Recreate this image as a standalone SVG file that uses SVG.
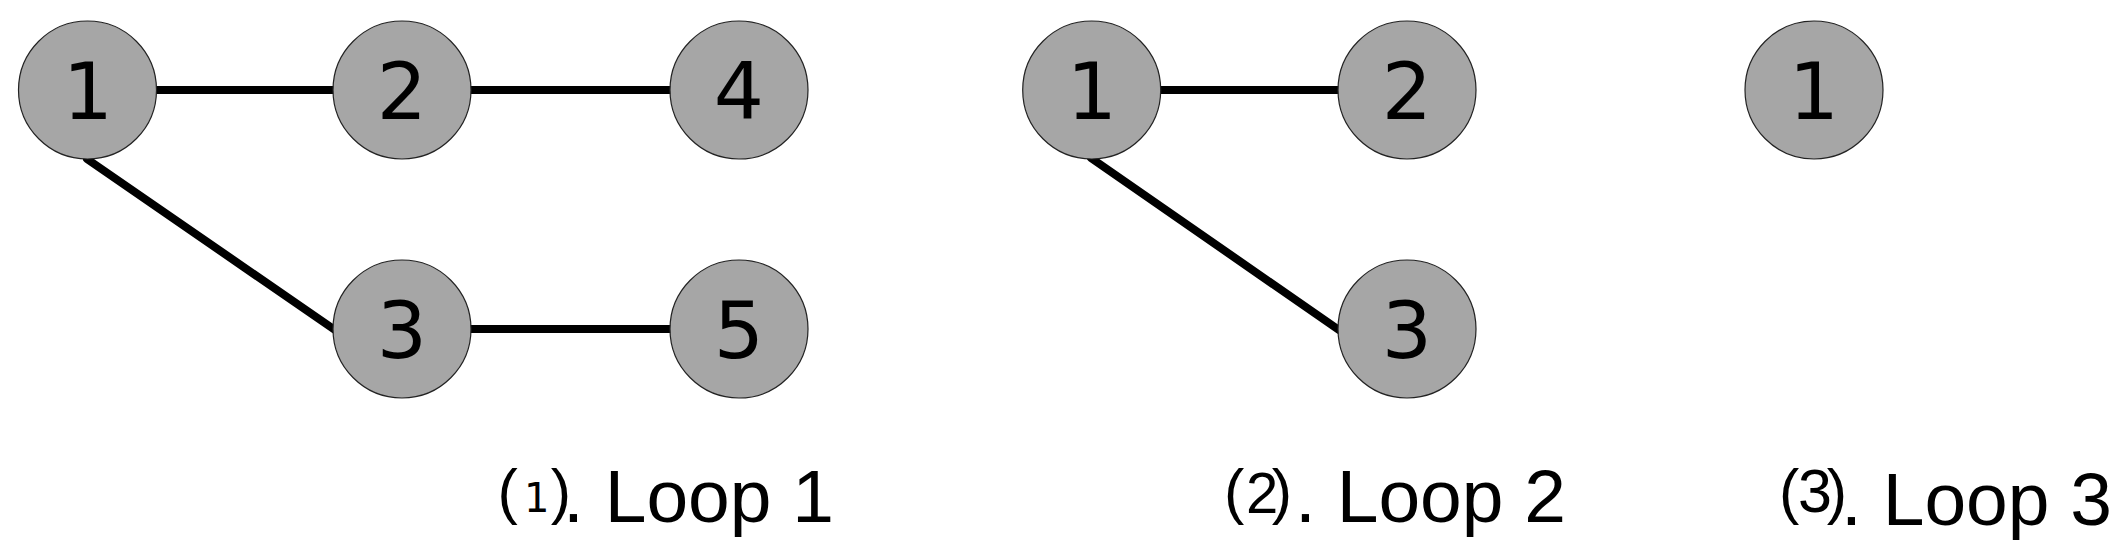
<svg xmlns="http://www.w3.org/2000/svg" width="2127" height="558" viewBox="0 0 2127 558">
<style>
.node circle{fill:#a6a6a6;stroke:#222;stroke-width:1.2}
.node text{font-family:"DejaVu Sans",sans-serif;font-size:79px;fill:#000;text-anchor:middle}
.edges line{stroke:#000;stroke-width:8;stroke-linecap:round}
.lbl{font-family:"Liberation Sans",Arial,sans-serif;fill:#000}
.par{font-size:61px}
.big{font-size:75px}
.dj{font-family:"DejaVu Sans",sans-serif;font-size:40px}
</style>
<rect width="2127" height="558" fill="#fff"/>
<g id="connectors" class="edges">
<line x1="153" y1="90" x2="334" y2="90"/>
<line x1="471" y1="90" x2="671" y2="90"/>
<line x1="87" y1="159" x2="335" y2="330"/>
<line x1="471" y1="329" x2="671" y2="329"/>
<line x1="1160" y1="90" x2="1339" y2="90"/>
<line x1="1091" y1="158" x2="1339" y2="330"/>
</g>
<g id="l1-n1" class="node"><circle cx="87.5" cy="90" r="69"/><text x="88" y="118.5">1</text></g>
<g id="l1-n2" class="node"><circle cx="402" cy="90" r="69"/><text x="402" y="118.5">2</text></g>
<g id="l1-n4" class="node"><circle cx="739" cy="90" r="69"/><text x="739" y="118.5">4</text></g>
<g id="l1-n3" class="node"><circle cx="402" cy="329" r="69"/><text x="402" y="357.5">3</text></g>
<g id="l1-n5" class="node"><circle cx="739" cy="329" r="69"/><text x="739" y="357.5">5</text></g>
<g id="l2-n1" class="node"><circle cx="1091.7" cy="90" r="69"/><text x="1092" y="118.5">1</text></g>
<g id="l2-n2" class="node"><circle cx="1407" cy="90" r="69"/><text x="1407" y="118.5">2</text></g>
<g id="l2-n3" class="node"><circle cx="1407" cy="329" r="69"/><text x="1407" y="357.5">3</text></g>
<g id="l3-n1" class="node"><circle cx="1814" cy="90" r="69"/><text x="1814" y="118.5">1</text></g>
<g id="label1">
<text class="lbl" y="512"><tspan class="par" x="497.6">(</tspan><tspan class="dj" x="524">1</tspan><tspan class="par" x="550.8">)</tspan><tspan class="big" x="563" y="522">. Loop 1</tspan></text>
</g>
<g id="label2">
<text class="lbl" y="512"><tspan class="par" x="1224">(</tspan><tspan x="1246" y="513" font-size="58">2</tspan><tspan class="par" x="1271.8" y="512">)</tspan><tspan class="big" x="1295" y="522">. Loop 2</tspan></text>
</g>
<g id="label3">
<text class="lbl" y="512"><tspan class="par" x="1779">(</tspan><tspan x="1798" font-size="61">3</tspan><tspan class="par" x="1826.8">)</tspan><tspan class="big" x="1841" y="525">. Loop 3</tspan></text>
</g>
</svg>
